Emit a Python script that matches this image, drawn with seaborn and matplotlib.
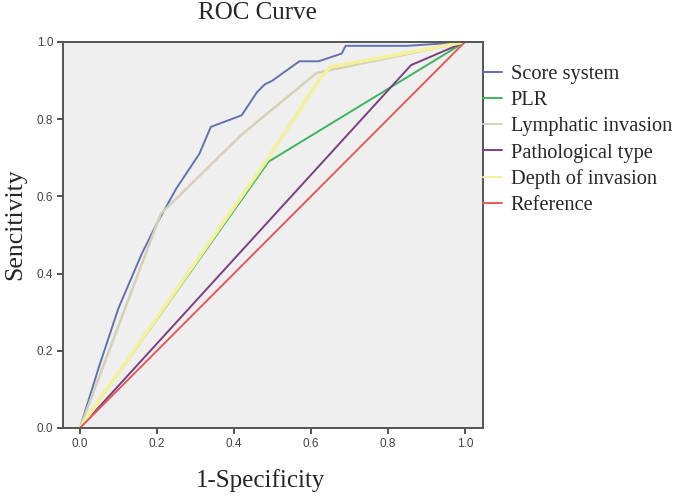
#%% pacotes
import matplotlib
matplotlib.use("Agg")
import matplotlib.pyplot as plt
import seaborn as sns
import pandas as pd

sns.set_style("white")

#%% dados
series_names = ["Score system", "PLR", "Lymphatic invasion",
                "Pathological type", "Depth of invasion", "Reference"]

score_x = [0.0, 0.05, 0.10, 0.16, 0.20, 0.25, 0.31, 0.34, 0.42, 0.46, 0.48, 0.50,
           0.57, 0.62, 0.68, 0.69, 0.85, 1.0]
score_y = [0.0, 0.16, 0.31, 0.45, 0.53, 0.62, 0.71, 0.78, 0.81, 0.87, 0.89, 0.90,
           0.95, 0.95, 0.97, 0.99, 0.99, 1.0]

plr_x = [0.0, 0.49, 1.0]
plr_y = [0.0, 0.69, 1.0]

lymph_x = [0.0, 0.21, 0.42, 0.615, 1.0]
lymph_y = [0.0, 0.555, 0.76, 0.92, 1.0]

patho_x = [0.0, 0.86, 1.0]
patho_y = [0.0, 0.94, 1.0]

depth_x = [0.0, 0.49, 0.62, 0.65, 1.0]
depth_y = [0.0, 0.70, 0.90, 0.935, 1.0]

ref_x = [0.0, 1.0]
ref_y = [0.0, 1.0]

cores = ["#6272b0", "#3db55e", "#d4d1b6", "#7b3f82", "#f4f19c", "#e45a5a"]
larguras = [1.4, 1.4, 1.8, 1.4, 2.6, 1.4]

#%% tabela longa
partes = []
for nome, xs, ys in zip(series_names,
                        [score_x, plr_x, lymph_x, patho_x, depth_x, ref_x],
                        [score_y, plr_y, lymph_y, patho_y, depth_y, ref_y]):
    partes.append(pd.DataFrame({"x": xs, "y": ys, "curva": nome}))
df = pd.concat(partes, ignore_index=True)

#%% grafico
fig = plt.figure(figsize=(6.75, 4.98), dpi=100)
ax = fig.add_axes([0.0933, 0.1406, 0.6223, 0.7751])

sns.lineplot(data=df, x="x", y="y", hue="curva", hue_order=series_names,
             palette=cores, sort=False, estimator=None, ax=ax, legend=False)
for linha, lw in zip(ax.get_lines(), larguras):
    linha.set_linewidth(lw)

ax.set_facecolor("#efefef")
ax.set_xlim(-0.044, 1.047)
ax.set_ylim(0, 1.0)
ax.set_xticks([0.0, 0.2, 0.4, 0.6, 0.8, 1.0])
ax.set_yticks([0.0, 0.2, 0.4, 0.6, 0.8, 1.0])
ax.xaxis.set_major_formatter(matplotlib.ticker.FormatStrFormatter("%.1f"))
ax.yaxis.set_major_formatter(matplotlib.ticker.FormatStrFormatter("%.1f"))
ax.tick_params(axis="both", direction="out", length=4, width=1.3, color="#444444",
               labelsize=8.5, labelcolor="#444444", pad=3, bottom=True, left=True)
for lab in ax.get_xticklabels() + ax.get_yticklabels():
    lab.set_family("Liberation Sans")
for sp in ax.spines.values():
    sp.set_color("#555555")
    sp.set_linewidth(1.4)

ax.set_xlabel("")
ax.set_ylabel("")
serif = "Liberation Serif"
fig.text(257 / 675, 1 - 13 / 498, "ROC Curve", ha="center", va="center",
         family=serif, fontsize=18)
fig.text(261 / 675, 1 - 481 / 498, "1-Specificity", ha="center", va="center",
         family=serif, fontsize=18)
fig.text(15 / 675, 1 - 224 / 498, "Sencitivity", ha="center", va="center",
         rotation=90, family=serif, fontsize=18.5)

# legenda encostada no eixo direito
handles = [plt.Line2D([], [], color=c, lw=1.4) for c in cores]
ax.legend(handles, series_names, loc="upper left", bbox_to_anchor=(1.0, 0.94),
          frameon=False, borderaxespad=0, borderpad=0, handlelength=0.95,
          handletextpad=0.4, labelspacing=0.33,
          prop={"family": serif, "size": 14.7})

fig.savefig("out.png", dpi=100)
